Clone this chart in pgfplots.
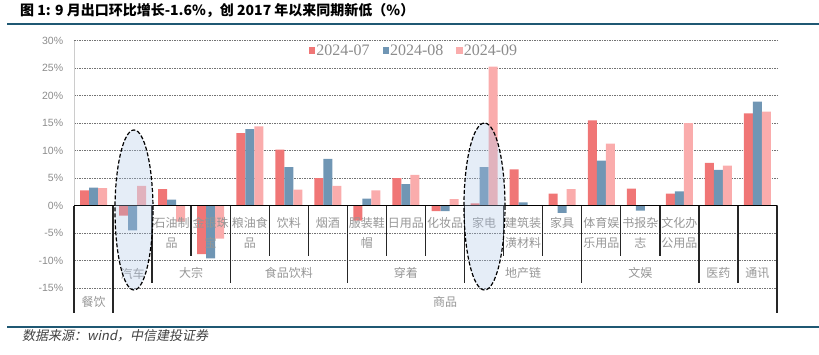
\documentclass[border=0pt]{standalone}
\usepackage{fontspec}
\setmainfont{Liberation Sans}
\newfontfamily\cjk{Noto Sans CJK SC}
\newfontfamily\cjkit[FakeSlant=0.2]{Noto Sans CJK SC}
\newfontfamily\legfont{Liberation Serif}
\usepackage{pgfplots}
\pgfplotsset{compat=1.18}
\definecolor{cJul}{RGB}{240,118,118}
\definecolor{cAug}{RGB}{112,150,180}
\definecolor{cSep}{RGB}{250,172,172}
\definecolor{lblgray}{RGB}{150,150,150}
\definecolor{ticgray}{RGB}{140,140,140}
\definecolor{teal1}{RGB}{31,88,115}
\definecolor{ellfill}{RGB}{170,195,230}
\newcommand\lab[3]{\node[font=\cjk\fontsize{12}{13}\selectfont, text=lblgray, inner sep=0pt] at (axis cs:#1,#2) {#3};}
\newcommand\sep[2]{\draw[black!85, line width=1.4pt] (axis cs:#1,0) -- (axis cs:#1,#2);}
\begin{document}
\begin{tikzpicture}
\useasboundingbox (0pt,0pt) rectangle (819pt,355pt);
\node[anchor=west,inner sep=0pt,font=\cjk\bfseries\fontsize{14}{16}\selectfont] at (20pt,344pt) {图 1: 9 月出口环比增长-1.6\%，创 2017 年以来同期新低（\%）};
\draw[teal1,line width=1.8pt] (7pt,330.7pt) -- (819pt,330.7pt);
\draw[teal1,line width=1.8pt] (7pt,28pt) -- (819pt,28pt);
\node[anchor=west,inner sep=0pt,text=black!75,font=\cjkit\fontsize{13}{14}\selectfont] at (22pt,19pt) {数据来源：wind，中信建投证券};
\begin{axis}[
  at={(74pt,66.8pt)}, anchor=south west,
  scale only axis, width=703pt, height=247.5pt,
  xmin=0, xmax=18, ymin=-15, ymax=30,
  clip=false,
  axis line style={draw=none},
  major tick length=0pt,
  xtick=\empty,
  ytick={-15,-10,...,30},
  ymajorgrids,
  grid style={gray!90!black, line width=0.9pt, dash pattern=on 1.5pt off 1pt},
  /pgf/number format/assume math mode=true,
  yticklabel={\pgfmathprintnumber{\tick}\%},
  yticklabel style={font=\fontsize{10.5}{12}\selectfont, text=ticgray, inner sep=0pt, xshift=-10.7pt},
  legend style={at={(0.483,0.96)}, anchor=center, draw=none, fill=none,
    legend columns=3, font=\legfont\fontsize{16}{16}\selectfont, text=ticgray,
    /tikz/every even column/.append style={column sep=12pt},
    nodes={inner sep=1pt}},
]
\addplot[ybar, bar width=9pt, bar shift=-9pt, fill=cJul, draw=none,
  legend image code/.code={\fill[cJul] (0pt,-3.2pt) rectangle (6.4pt,3.2pt);}]
  coordinates {(0.5,2.8) (1.5,-1.8) (2.5,3.0) (3.5,-8.8) (4.5,13.2) (5.5,10.2) (6.5,5.0) (7.5,-2.7) (8.5,5.0) (9.5,-1.0) (10.5,0.4) (11.5,6.6) (12.5,2.2) (13.5,15.5) (14.5,3.1) (15.5,2.2) (16.5,7.8) (17.5,16.8)};
\addlegendentry{2024-07}
\addplot[ybar, bar width=9pt, bar shift=0pt, fill=cAug, draw=none,
  legend image code/.code={\fill[cAug] (0pt,-3.2pt) rectangle (6.4pt,3.2pt);}]
  coordinates {(0.5,3.3) (1.5,-4.5) (2.5,1.1) (3.5,-9.6) (4.5,13.9) (5.5,7.0) (6.5,8.5) (7.5,1.3) (8.5,3.9) (9.5,-1.0) (10.5,7.0) (11.5,0.6) (12.5,-1.3) (13.5,8.2) (14.5,-0.9) (15.5,2.6) (16.5,6.5) (17.5,18.9)};
\addlegendentry{2024-08}
\addplot[ybar, bar width=9pt, bar shift=9pt, fill=cSep, draw=none,
  legend image code/.code={\fill[cSep] (0pt,-3.2pt) rectangle (6.4pt,3.2pt);}]
  coordinates {(0.5,3.2) (1.5,3.6) (2.5,-2.9) (3.5,-6.0) (4.5,14.4) (5.5,2.9) (6.5,3.6) (7.5,2.8) (8.5,5.6) (9.5,1.2) (10.5,25.3) (12.5,3.0) (13.5,11.3) (15.5,15.0) (16.5,7.3) (17.5,17.1)};
\addlegendentry{2024-09}
% axis lines
\draw[gray!40, line width=0.8pt] (axis cs:0,0) -- (axis cs:0,30);
\draw[black, line width=1.6pt] (axis cs:0,0) -- (axis cs:18,0);
% separators
\sep{0}{-19.5}\sep{1}{-19.5}\sep{2}{-14.05}\sep{3}{-9.15}\sep{4}{-14.05}
\sep{5}{-9.15}\sep{6}{-9.15}\sep{7}{-14.05}\sep{8}{-9.15}\sep{9}{-9.15}
\sep{10}{-14.05}\sep{11}{-9.15}\sep{12}{-9.15}\sep{13}{-14.05}\sep{14}{-9.15}
\sep{15}{-9.15}\sep{16}{-14.05}\sep{17}{-14.05}\sep{18}{-19.5}
% level 1 labels
\lab{2.5}{-3.1}{石油制}\lab{2.5}{-6.8}{品}
\lab{3.5}{-3.1}{金银珠}\lab{3.5}{-6.8}{宝}
\lab{4.5}{-3.1}{粮油食}\lab{4.5}{-6.8}{品}
\lab{5.5}{-3.1}{饮料}
\lab{6.5}{-3.1}{烟酒}
\lab{7.5}{-3.1}{服装鞋}\lab{7.5}{-6.8}{帽}
\lab{8.5}{-3.1}{日用品}
\lab{9.5}{-3.1}{化妆品}
\lab{10.5}{-3.1}{家电}
\lab{11.5}{-3.1}{建筑装}\lab{11.5}{-6.8}{潢材料}
\lab{12.5}{-3.1}{家具}
\lab{13.5}{-3.1}{体育娱}\lab{13.5}{-6.8}{乐用品}
\lab{14.5}{-3.1}{书报杂}\lab{14.5}{-6.8}{志}
\lab{15.5}{-3.1}{文化办}\lab{15.5}{-6.8}{公用品}
% level 2 labels
\lab{1.5}{-12.4}{汽车}
\lab{3}{-12.3}{大宗}
\lab{5.5}{-12.3}{食品饮料}
\lab{8.5}{-12.3}{穿着}
\lab{11.5}{-12.3}{地产链}
\lab{14.5}{-12.3}{文娱}
\lab{16.5}{-12.3}{医药}
\lab{17.5}{-12.3}{通讯}
% level 3 labels
\lab{0.5}{-17.5}{餐饮}
\lab{9.5}{-17.5}{商品}
% highlight ellipses
\draw[black, line width=1.2pt, dash pattern=on 4pt off 2pt, fill=ellfill, fill opacity=0.3] (axis cs:1.536,-0.78) ellipse [x radius=19pt, y radius=80pt];
\draw[black, line width=1.2pt, dash pattern=on 4pt off 2pt, fill=ellfill, fill opacity=0.3] (axis cs:10.51,-0.15) ellipse [x radius=20.5pt, y radius=83.5pt];
\end{axis}
\end{tikzpicture}
\end{document}
